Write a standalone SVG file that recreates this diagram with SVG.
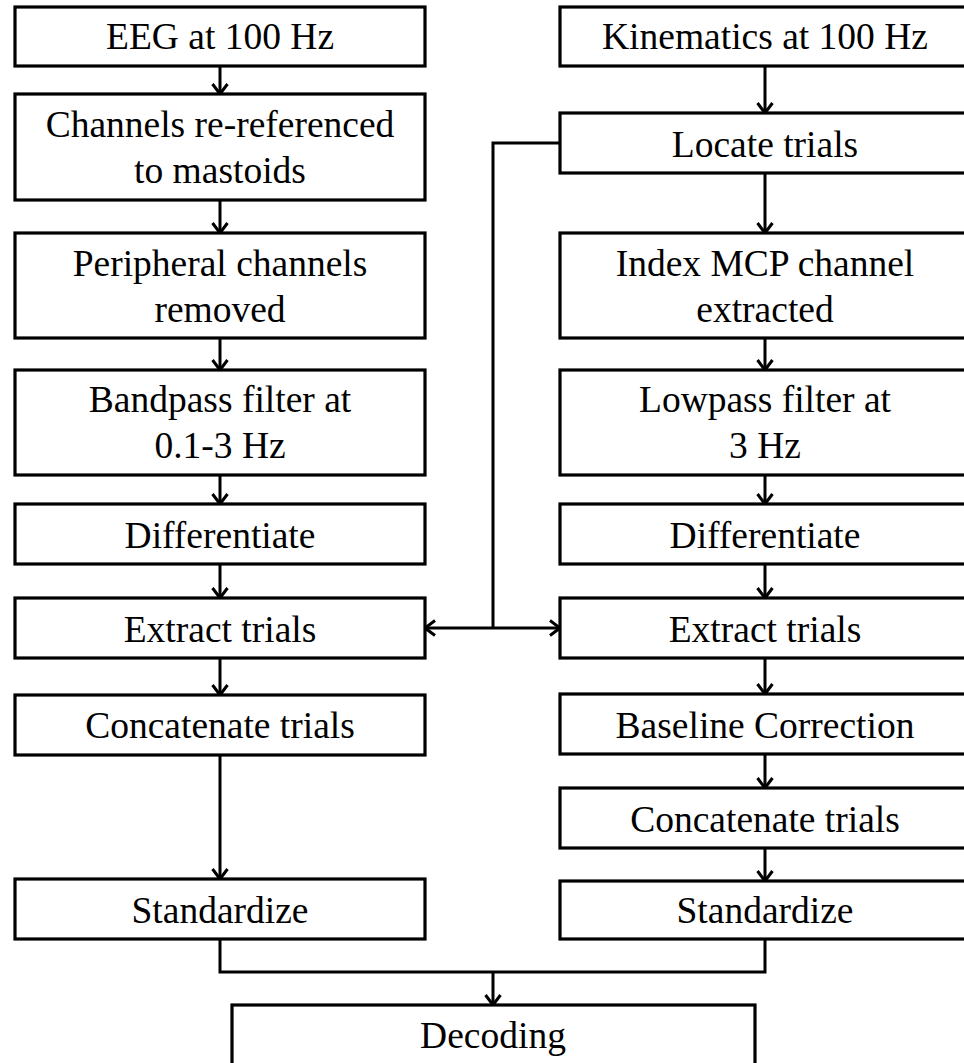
<svg xmlns="http://www.w3.org/2000/svg" width="964" height="1063" viewBox="0 0 964 1063">
<style>
.box{fill:#fff;stroke:#000;stroke-width:3.2}
.t{font-family:"Liberation Serif","Times New Roman",serif;font-size:37.5px;fill:#000;text-anchor:middle}
.c{fill:none;stroke:#000;stroke-width:3}
</style>
<defs>
<marker id="ah" markerUnits="userSpaceOnUse" viewBox="0 0 14 18" markerWidth="14" markerHeight="18" refX="12" refY="9" orient="auto">
<path d="M2,1.5 L12,9 L2,16.5" fill="none" stroke="#000" stroke-width="3" stroke-linejoin="miter"/>
</marker>
</defs>
<rect width="964" height="1063" fill="#fff"/>
<g id="connectors">
<line class="c" x1="220" y1="66" x2="220" y2="94" marker-end="url(#ah)"/>
<line class="c" x1="220" y1="200" x2="220" y2="233" marker-end="url(#ah)"/>
<line class="c" x1="220" y1="338" x2="220" y2="370" marker-end="url(#ah)"/>
<line class="c" x1="220" y1="475" x2="220" y2="504" marker-end="url(#ah)"/>
<line class="c" x1="220" y1="564" x2="220" y2="598" marker-end="url(#ah)"/>
<line class="c" x1="220" y1="658" x2="220" y2="695" marker-end="url(#ah)"/>
<line class="c" x1="220" y1="755" x2="220" y2="879" marker-end="url(#ah)"/>
<line class="c" x1="765" y1="66" x2="765" y2="113" marker-end="url(#ah)"/>
<line class="c" x1="765" y1="173" x2="765" y2="233" marker-end="url(#ah)"/>
<line class="c" x1="765" y1="338" x2="765" y2="370" marker-end="url(#ah)"/>
<line class="c" x1="765" y1="475" x2="765" y2="504" marker-end="url(#ah)"/>
<line class="c" x1="765" y1="564" x2="765" y2="598" marker-end="url(#ah)"/>
<line class="c" x1="765" y1="658" x2="765" y2="694" marker-end="url(#ah)"/>
<line class="c" x1="765" y1="754" x2="765" y2="788" marker-end="url(#ah)"/>
<line class="c" x1="765" y1="848" x2="765" y2="881" marker-end="url(#ah)"/>
<polyline class="c" points="560,143 493,143 493,628"/>
<line class="c" x1="493" y1="628" x2="425" y2="628" marker-end="url(#ah)"/>
<line class="c" x1="493" y1="628" x2="560" y2="628" marker-end="url(#ah)"/>
<polyline class="c" points="220,939 220,972 765,972 765,939"/>
<line class="c" x1="493" y1="972" x2="493" y2="1005" marker-end="url(#ah)"/>
</g>
<g id="eeg"><rect class="box" x="15" y="7" width="410" height="59"/><text class="t" x="220" y="49">EEG at 100 Hz</text></g>
<g id="reref"><rect class="box" x="15" y="94" width="410" height="106"/><text class="t" x="220" y="137">Channels re-referenced</text><text class="t" x="220" y="183">to mastoids</text></g>
<g id="periph"><rect class="box" x="15" y="233" width="410" height="105"/><text class="t" x="220" y="276">Peripheral channels</text><text class="t" x="220" y="322">removed</text></g>
<g id="bandpass"><rect class="box" x="15" y="370" width="410" height="105"/><text class="t" x="220" y="412">Bandpass filter at</text><text class="t" x="220" y="458">0.1-3 Hz</text></g>
<g id="diffL"><rect class="box" x="15" y="504" width="410" height="60"/><text class="t" x="220" y="548">Differentiate</text></g>
<g id="extractL"><rect class="box" x="15" y="598" width="410" height="60"/><text class="t" x="220" y="642">Extract trials</text></g>
<g id="concatL"><rect class="box" x="15" y="695" width="410" height="60"/><text class="t" x="220" y="738">Concatenate trials</text></g>
<g id="stdL"><rect class="box" x="15" y="879" width="410" height="60"/><text class="t" x="220" y="923">Standardize</text></g>
<g id="kin"><rect class="box" x="560" y="7" width="410" height="59"/><text class="t" x="765" y="49">Kinematics at 100 Hz</text></g>
<g id="locate"><rect class="box" x="560" y="113" width="410" height="60"/><text class="t" x="765" y="157">Locate trials</text></g>
<g id="mcp"><rect class="box" x="560" y="233" width="410" height="105"/><text class="t" x="765" y="276">Index MCP channel</text><text class="t" x="765" y="322">extracted</text></g>
<g id="lowpass"><rect class="box" x="560" y="370" width="410" height="105"/><text class="t" x="765" y="412">Lowpass filter at</text><text class="t" x="765" y="458">3 Hz</text></g>
<g id="diffR"><rect class="box" x="560" y="504" width="410" height="60"/><text class="t" x="765" y="548">Differentiate</text></g>
<g id="extractR"><rect class="box" x="560" y="598" width="410" height="60"/><text class="t" x="765" y="642">Extract trials</text></g>
<g id="baseline"><rect class="box" x="560" y="694" width="410" height="60"/><text class="t" x="765" y="738">Baseline Correction</text></g>
<g id="concatR"><rect class="box" x="560" y="788" width="410" height="60"/><text class="t" x="765" y="832">Concatenate trials</text></g>
<g id="stdR"><rect class="box" x="560" y="881" width="410" height="58"/><text class="t" x="765" y="923">Standardize</text></g>
<g id="decoding"><rect class="box" x="232" y="1005" width="523" height="80"/><text class="t" x="493" y="1048">Decoding</text></g>
</svg>
